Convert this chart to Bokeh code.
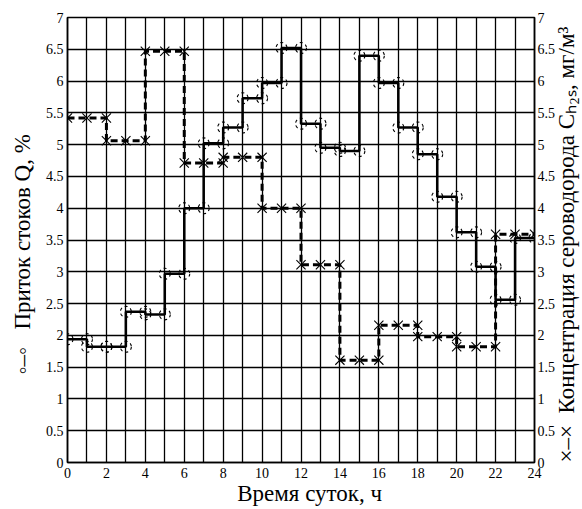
import math
from bokeh.plotting import figure
from bokeh.models import Range1d, LinearAxis, FixedTicker
from bokeh.core.properties import value
from bokeh.embed import file_html
from bokeh.resources import INLINE

# ---- data ----
q_hours = list(range(24))
q_values = [1.94, 1.82, 1.82, 2.37, 2.33, 2.97, 4.00, 5.02, 5.27, 5.73, 5.97, 6.52,
            5.33, 4.95, 4.90, 6.40, 5.97, 5.27, 4.85, 4.18, 3.62, 3.08, 2.56, 3.53]
h2s_start = list(range(0, 24, 2))
h2s_values = [5.42, 5.06, 6.47, 4.71, 4.80, 4.00, 3.11, 1.61, 2.16, 1.98, 1.82, 3.59]
x_ticks = list(range(0, 25, 2))
y_ticks = [i * 0.5 for i in range(15)]
y_labels = ["0", "0.5", "1", "1.5", "2", "2.5", "3", "3.5", "4", "4.5", "5", "5.5", "6", "6.5", "7"]
x_title = "Время суток, ч"
left_title = "Приток стоков Q, %"
right_title = "Концентрация сероводорода Cₕ₂ₛ, мг/м³"

qx, qy = [], []
for h, v in zip(q_hours, q_values):
    qx += [h, h + 1]
    qy += [v, v]
hx, hy = [], []
for h, v in zip(h2s_start, h2s_values):
    hx += [h, h + 1, h + 2]
    hy += [v, v, v]

SERIF = "Liberation Serif"
NB = "\u00a0"

p = figure(width=600, height=509, x_range=Range1d(0, 24), y_range=Range1d(0, 7),
           output_backend="svg", toolbar_location=None,
           min_border_left=67, min_border_right=66, min_border_top=17, min_border_bottom=47)
p.background_fill_color = "white"
p.border_fill_color = "white"
p.outline_line_color = "black"
p.outline_line_width = 1.5

p.extra_y_ranges = {"r": Range1d(0, 7)}
raxis = LinearAxis(y_range_name="r")
p.add_layout(raxis, "right")

overrides = {t: s for t, s in zip(y_ticks, y_labels)}
for ax in [p.yaxis[0], raxis]:
    ax.ticker = FixedTicker(ticks=y_ticks)
    ax.major_label_overrides = overrides
p.xaxis[0].ticker = FixedTicker(ticks=x_ticks)

for ax in [p.xaxis[0], p.yaxis[0], raxis]:
    ax.axis_line_color = "black"
    ax.axis_line_width = 1.5
    ax.major_tick_in = 0
    ax.major_tick_out = 0
    ax.minor_tick_line_color = None
    ax.major_label_text_font = SERIF
    ax.major_label_text_font_size = "14px"
    ax.major_label_text_color = "black"
    ax.axis_label_text_font = SERIF
    ax.axis_label_text_font_style = "normal"
    ax.axis_label_text_font_size = "23px"
    ax.axis_label_text_color = "black"
p.yaxis[0].major_label_standoff = 4
raxis.major_label_standoff = 3
p.xaxis[0].major_label_standoff = 5

p.xaxis[0].axis_label = NB * 3 + x_title
p.xaxis[0].axis_label_standoff = 0
p.yaxis[0].axis_label = "◦–◦" + NB * 3 + left_title + NB * 5
p.yaxis[0].axis_label_standoff = 8
raxis.axis_label = "×–×" + NB * 2 + right_title
raxis.axis_label_standoff = 8
raxis.axis_label_text_font_size = "23px"
raxis.axis_label_orientation = math.pi / 2
try:
    raxis.axis_label_align = "start"
except Exception:
    pass

p.xgrid.ticker = FixedTicker(ticks=list(range(25)))
p.ygrid.ticker = FixedTicker(ticks=y_ticks)
for g in [p.xgrid, p.ygrid]:
    g.grid_line_color = "black"
    g.grid_line_width = 1.3

p.line(hx, hy, line_color="black", line_width=3, line_dash="7 4")
p.scatter(hx, hy, marker="x", size=13, line_color="black", line_width=1.1)

p.line(qx, qy, line_color="black", line_width=2.5)
p.scatter(qx, qy, marker="circle", size=11, fill_alpha=0, line_color="black",
          line_width=1.1, line_dash=value("3 1.5"))

html = file_html(p, INLINE)
html = html.replace("</head>", "<style>html,body{overflow:hidden;margin:0;}</style></head>", 1)
open("out.html", "w").write(html)
